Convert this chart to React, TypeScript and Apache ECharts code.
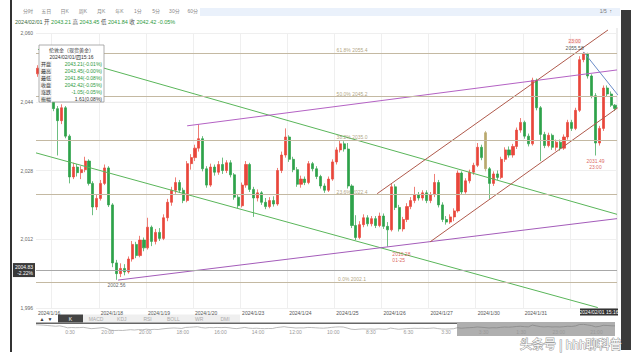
import React, { useEffect, useRef } from "react";
import * as echarts from "echarts";

// ---------- data ----------
const dayLabels = ["2024/1/16", "2024/1/17", "2024/1/18", "2024/1/19", "2024/1/20", "2024/1/23", "2024/1/24", "2024/1/25", "2024/1/26", "2024/1/27", "2024/1/30", "2024/1/31", "2024/02/01"];
const dayCandleCounts = [4, 12, 12, 12, 12, 12, 12, 12, 12, 12, 12, 12, 12];
const hiddenDayLabels = ["2024/1/17", "2024/02/01"];

// [open, close, low, high]
const candles: number[][] = [
  [2050.5, 2051.8, 2049.8, 2052.5], [2051.8, 2050.2, 2049.5, 2052.6], [2050.2, 2048.0, 2047.5, 2050.8], [2048.0, 2045.2, 2044.6, 2048.6],
  [2045.2, 2042.4, 2041.8, 2045.8], [2042.4, 2039.6, 2031.5, 2043.0], [2039.6, 2042.6, 2038.8, 2043.4], [2042.6, 2036.0, 2035.5, 2043.0],
  [2036.0, 2026.5, 2025.0, 2036.4], [2026.5, 2028.8, 2026.0, 2029.8], [2028.8, 2027.5, 2026.6, 2029.5], [2027.5, 2028.2, 2026.0, 2029.0],
  [2028.2, 2030.2, 2027.6, 2031.2], [2030.2, 2025.0, 2024.5, 2030.6], [2025.0, 2019.5, 2017.6, 2025.5], [2019.5, 2021.5, 2018.8, 2022.3],
  [2021.5, 2025.0, 2021.0, 2025.8], [2025.0, 2028.6, 2024.6, 2029.4], [2028.6, 2020.0, 2019.5, 2029.0], [2020.0, 2006.5, 2005.5, 2020.4],
  [2006.5, 2004.0, 2002.56, 2007.2], [2004.0, 2005.2, 2003.2, 2006.4], [2005.2, 2004.4, 2003.6, 2006.2], [2004.4, 2007.4, 2004.0, 2008.0],
  [2007.4, 2010.8, 2006.8, 2011.6], [2010.8, 2008.2, 2007.6, 2011.4], [2008.2, 2011.8, 2007.8, 2012.8], [2011.8, 2010.0, 2009.2, 2012.4],
  [2010.0, 2014.8, 2009.6, 2017.0], [2014.8, 2011.5, 2010.4, 2015.2], [2011.5, 2013.6, 2010.8, 2014.4], [2013.6, 2012.2, 2011.6, 2014.6],
  [2012.2, 2017.0, 2011.8, 2017.8], [2017.0, 2020.6, 2016.2, 2021.4], [2020.6, 2023.4, 2019.8, 2024.2], [2023.4, 2025.2, 2022.6, 2026.4],
  [2025.2, 2023.4, 2022.8, 2025.8], [2023.4, 2021.0, 2020.4, 2024.0], [2021.0, 2029.6, 2020.6, 2030.2], [2029.6, 2031.0, 2028.2, 2031.8],
  [2031.0, 2033.2, 2030.2, 2034.0], [2033.2, 2035.4, 2032.4, 2038.8], [2035.4, 2028.4, 2027.8, 2036.0], [2028.4, 2024.6, 2024.0, 2029.0],
  [2024.6, 2028.8, 2024.2, 2029.6], [2028.8, 2027.6, 2026.8, 2029.4], [2027.6, 2029.4, 2027.0, 2030.2], [2029.4, 2028.0, 2027.2, 2031.0],
  [2028.0, 2029.8, 2027.4, 2030.4], [2029.8, 2027.0, 2026.4, 2030.4], [2027.0, 2021.8, 2021.2, 2027.4], [2021.8, 2019.8, 2019.2, 2022.4],
  [2019.8, 2024.6, 2019.4, 2025.2], [2024.6, 2029.4, 2024.0, 2030.2], [2029.4, 2023.6, 2023.0, 2029.8], [2023.6, 2021.6, 2017.2, 2024.2],
  [2021.6, 2022.8, 2020.8, 2023.6], [2022.8, 2020.6, 2020.0, 2023.2], [2020.6, 2019.6, 2019.0, 2021.6], [2019.6, 2021.0, 2019.2, 2021.8],
  [2021.0, 2020.2, 2019.6, 2022.0], [2020.2, 2028.0, 2019.8, 2028.6], [2028.0, 2031.6, 2027.4, 2032.4], [2031.6, 2035.8, 2031.0, 2037.8],
  [2035.8, 2030.6, 2030.0, 2036.2], [2030.6, 2028.2, 2027.6, 2031.2], [2028.2, 2024.8, 2024.2, 2028.8], [2024.8, 2026.0, 2024.0, 2026.8],
  [2026.0, 2025.2, 2024.6, 2026.6], [2025.2, 2029.6, 2024.8, 2030.2], [2029.6, 2028.4, 2027.8, 2030.0], [2028.4, 2026.6, 2026.0, 2029.0],
  [2026.6, 2024.4, 2023.8, 2027.0], [2024.4, 2023.4, 2022.8, 2025.0], [2023.4, 2026.0, 2023.0, 2026.6], [2026.0, 2030.0, 2025.6, 2030.6],
  [2030.0, 2032.8, 2029.4, 2033.4], [2032.8, 2034.2, 2032.2, 2035.0], [2034.2, 2033.0, 2032.4, 2034.8], [2033.0, 2024.4, 2023.8, 2034.4],
  [2024.4, 2015.2, 2014.6, 2024.8], [2015.2, 2012.4, 2011.8, 2017.6], [2012.4, 2015.4, 2012.0, 2016.2], [2015.4, 2017.0, 2014.8, 2017.8],
  [2017.0, 2015.6, 2015.0, 2017.6], [2015.6, 2016.8, 2015.0, 2017.4], [2016.8, 2015.2, 2014.6, 2017.4], [2015.2, 2017.4, 2014.8, 2018.2],
  [2017.4, 2015.0, 2014.4, 2018.0], [2015.0, 2014.2, 2010.28, 2016.0], [2014.2, 2024.2, 2013.8, 2025.0], [2024.2, 2019.4, 2018.8, 2024.8],
  [2019.4, 2014.4, 2013.8, 2020.0], [2014.4, 2016.6, 2013.8, 2017.2], [2016.6, 2019.6, 2016.0, 2020.4], [2019.6, 2021.0, 2019.0, 2021.8],
  [2021.0, 2022.4, 2020.4, 2024.2], [2022.4, 2021.6, 2021.0, 2023.0], [2021.6, 2022.8, 2021.0, 2023.4], [2022.8, 2021.0, 2020.4, 2023.4],
  [2021.0, 2022.4, 2020.4, 2023.0], [2022.4, 2025.2, 2021.8, 2027.2], [2025.2, 2020.0, 2019.4, 2025.8], [2020.0, 2016.6, 2016.0, 2020.6],
  [2016.6, 2016.0, 2015.4, 2017.4], [2016.0, 2017.2, 2015.6, 2017.8], [2017.2, 2018.6, 2016.2, 2019.2], [2018.6, 2027.4, 2018.2, 2028.0],
  [2027.4, 2023.0, 2022.4, 2027.8], [2023.0, 2025.6, 2022.6, 2026.2], [2025.6, 2027.6, 2025.0, 2028.2], [2027.6, 2029.2, 2027.0, 2029.8],
  [2029.2, 2033.4, 2028.8, 2034.4], [2033.4, 2031.0, 2030.4, 2034.0], [2036.8, 2028.4, 2027.8, 2037.2], [2028.4, 2025.0, 2021.4, 2028.8],
  [2025.0, 2027.2, 2024.4, 2027.8], [2027.2, 2026.4, 2025.8, 2028.0], [2026.4, 2030.6, 2026.0, 2031.2], [2030.6, 2032.8, 2030.0, 2033.4],
  [2032.8, 2031.6, 2031.0, 2033.6], [2031.6, 2033.6, 2031.0, 2034.2], [2033.6, 2037.4, 2033.0, 2038.0], [2037.4, 2039.2, 2036.8, 2040.2],
  [2039.2, 2036.0, 2035.4, 2039.6], [2036.0, 2034.2, 2033.6, 2036.6], [2034.2, 2049.0, 2033.8, 2049.6], [2049.0, 2042.6, 2042.0, 2049.4],
  [2042.6, 2036.4, 2030.2, 2043.0], [2036.4, 2033.8, 2033.2, 2037.0], [2033.8, 2036.2, 2033.4, 2036.8], [2036.2, 2033.4, 2032.8, 2036.6],
  [2033.4, 2034.6, 2032.6, 2035.2], [2034.6, 2033.2, 2032.6, 2035.2], [2033.2, 2035.8, 2032.8, 2036.4], [2035.8, 2039.2, 2035.2, 2039.8],
  [2039.2, 2037.8, 2037.2, 2039.8], [2037.8, 2042.0, 2037.4, 2042.6], [2042.0, 2053.8, 2041.6, 2054.6], [2053.8, 2055.2, 2053.2, 2055.58],
  [2055.2, 2050.0, 2049.4, 2055.4], [2050.0, 2045.4, 2044.8, 2050.4], [2045.4, 2034.4, 2031.49, 2046.0], [2034.4, 2037.8, 2033.8, 2038.4],
  [2037.8, 2047.2, 2037.2, 2047.8], [2047.2, 2045.8, 2045.2, 2047.8], [2045.8, 2043.2, 2042.8, 2046.4], [2043.21, 2042.42, 2041.84, 2043.45],
];
const oliveCandleIndex = 114;

const yMin = 1996;
const yMax = 2060;
const yStep = 16;

const fibPct = ["61.8%", "50.0%", "38.2%", "23.6%", "0.0%"];
const fibVal = [2055.4, 2045.2, 2035.0, 2022.4, 2002.1];
const fibLabelIndex = 80;

const refPrice = 2004.83;
const refPct = "-2.22%";

// trend lines: [candle index, price] end points
const greenUpper = [[0, 2056.2], [147.5, 2017.8]];
const greenLower = [[-0.5, 2032.1], [142.6, 1996.1]];
const purpleUpper = [[38, 2038.4], [147.5, 2051.4]];
const purpleLower = [[20.4, 2002.5], [147.5, 2016.8]];
const channelUpper = [[86.4, 2022.6], [145.2, 2060.7]];
const channelLower = [[99.9, 2011.4], [147.7, 2042.6]];
const peakLine = [[139, 2055.6], [147.7, 2045.6]];

const annLowIdx = 20, annLowVal = 2002.56, annLowText = "2002.56";
const annLow2Idx = 89, annLow2Val = 2010.28, annLow2Text = ["2010.28", "01-25"];
const annHighIdx = 139, annHighVal = 2055.58, annHighText = ["23:00", "2055.58"];
const annLow3Idx = 142, annLow3Val = 2031.49, annLow3Text = ["2031.49", "23:00"];

const headerDate = "2024/02/01";
const headerItems = [["开", "2043.21"], ["高", "2043.45"], ["低", "2041.84"], ["收", "2042.42"]];
const headerChange = "-0.05%";

const tipTitle = "伦敦金（现货黄金）";
const tipTime = "2024/02/01/四15:16";
const tipLabels = ["开盘", "最高", "最低", "收盘", "涨跌", "振幅"];
const tipValues = ["2043.21(-0.01%)", "2043.45(-0.00%)", "2041.84(-0.08%)", "2042.42(-0.05%)", "-1.05(-0.05%)", "1.61(0.08%)"];

const periodTabs = ["分时", "五日", "日K", "周K", "月K", "年K", "1分", "5分", "30分", "60分"];
const indicatorTabs = ["MACD", "KDJ", "RSI", "BOLL", "WR", "DMI"];
const activeTab = "K";
const navTimeLabels = ["0:30", "20:00", "20:00", "18:00", "16:00", "14:00", "12:00", "10:00", "8:30", "6:30", "3:30", "3:30", "1:30", "23:00", "21:00"];
const cursorTime = "2024/02/01 15:16";
const watermark = "头条号 | hhh聊科普";

// ---------- derived ----------
const categories: string[] = [];
const dayStartIdx = new Set<number>();
const shownLabelIdx = new Set<number>();
dayLabels.forEach((d, k) => {
  dayStartIdx.add(categories.length);
  if (!hiddenDayLabels.includes(d)) shownLabelIdx.add(categories.length);
  for (let j = 0; j < dayCandleCounts[k]; j++) categories.push(d + "|" + j);
});
const N = categories.length;

const FONT = '"Liberation Sans","Noto Sans CJK SC",sans-serif';
const UP = "#e8463b";
const DOWN = "#2ea24a";
const GREEN_TXT = "#2e9a3e";

function buildOption() {
  const candleData = candles.map((c, i) =>
    i === oliveCandleIndex
      ? { value: c, itemStyle: { color0: "#b9a96e", borderColor0: "#b9a96e" } }
      : c
  );
  const trend = (data: number[][], color: string, name: string) => ({
    name,
    type: "line",
    xAxisIndex: 1,
    yAxisIndex: 0,
    data,
    symbol: "none",
    silent: true,
    clip: false,
    z: 4,
    lineStyle: { color, width: 1 },
  });

  const headerRich = "{d|" + headerDate + "} " +
    headerItems.map(([l, v]) => "{l|" + l + "} {g|" + v + "}").join(" ") + " {g|" + headerChange + "}";

  const TZ = 100;
  const tipEls: any[] = [
    { type: "rect", z: TZ, shape: { x: 39, y: 45, width: 65, height: 57 }, style: { fill: "#fff", stroke: "#9a9a9a", lineWidth: 0.8 } },
    { type: "text", z: TZ + 1, x: 71.5, y: 50, style: { text: tipTitle, fill: "#333", fontSize: 5, fontFamily: FONT, align: "center", verticalAlign: "middle" } },
    { type: "text", z: TZ + 1, x: 71.5, y: 57, style: { text: tipTime, fill: "#333", fontSize: 5, fontFamily: FONT, align: "center", verticalAlign: "middle" } },
  ];
  tipLabels.forEach((l, k) => {
    tipEls.push({ type: "rect", z: TZ + 1, shape: { x: 40, y: 61 + k * 7, width: 12, height: 6 }, style: { fill: "#f2f2f2" } });
    tipEls.push({ type: "text", z: TZ + 2, x: 41, y: 64 + k * 7, style: { text: l, fill: "#333", fontSize: 5, fontFamily: FONT, align: "left", verticalAlign: "middle" } });
    tipEls.push({ type: "text", z: TZ + 2, x: 102, y: 64 + k * 7, style: { text: tipValues[k], fill: k < 5 ? GREEN_TXT : "#333", fontSize: 5, fontFamily: FONT, align: "right", verticalAlign: "middle" } });
  });

  const graphic: any[] = [
    { type: "rect", shape: { x: 10, y: 0, width: 2, height: 352 }, style: { fill: "#333" } },
    { type: "rect", shape: { x: 200, y: 8, width: 420, height: 8 }, style: { fill: "#eaf1fb" } },
    ...periodTabs.map((t, k) => ({ type: "text", x: 28 + k * 18.3, y: 11, style: { text: t, fill: "#888", fontSize: 5, fontFamily: FONT, align: "center", verticalAlign: "middle" } })),
    { type: "text", x: 612, y: 11, style: { text: "1/5  ↑", fill: "#777", fontSize: 5, fontFamily: FONT, align: "right", verticalAlign: "middle" } },
    { type: "text", x: 15, y: 22, style: { text: headerRich, fontSize: 5.5, fontFamily: FONT, verticalAlign: "middle", rich: { d: { fill: "#3a6a3a", fontSize: 5.5, fontFamily: FONT }, l: { fill: "#555", fontSize: 5.5, fontFamily: FONT }, g: { fill: GREEN_TXT, fontSize: 5.5, fontFamily: FONT } } } },
    { type: "line", shape: { x1: 617, y1: 28, x2: 617, y2: 308 }, style: { stroke: "#dddddd", lineWidth: 1 } },
    { type: "rect", z: 20, shape: { x: 580, y: 308.5, width: 38, height: 7 }, style: { fill: "#333" } },
    { type: "text", z: 21, x: 599, y: 312, style: { text: cursorTime, fill: "#fff", fontSize: 5, fontFamily: FONT, align: "center", verticalAlign: "middle" } },
    { type: "text", x: 42, y: 318.5, style: { text: "▲", fill: "#333", fontSize: 5, fontFamily: FONT, align: "center", verticalAlign: "middle" } },
    { type: "text", x: 50, y: 318.5, style: { text: "▼", fill: "#333", fontSize: 5, fontFamily: FONT, align: "center", verticalAlign: "middle" } },
    { type: "rect", shape: { x: 58, y: 314.5, width: 25, height: 8 }, style: { fill: "#444" } },
    { type: "text", x: 70.5, y: 318.5, style: { text: activeTab, fill: "#fff", fontSize: 5, fontFamily: FONT, align: "center", verticalAlign: "middle" } },
    { type: "rect", shape: { x: 83, y: 314.5, width: 157, height: 8 }, style: { fill: "#efefef" } },
    ...indicatorTabs.map((t, k) => ({ type: "text", x: 96 + k * 25.8, y: 318.5, style: { text: t, fill: "#aaa", fontSize: 5, fontFamily: FONT, align: "center", verticalAlign: "middle" } })),
    { type: "rect", shape: { x: 36, y: 322.5, width: 421, height: 1.4 }, style: { fill: "#666" } },
    { type: "rect", z: 50, shape: { x: 457, y: 322, width: 158, height: 14 }, style: { fill: "rgba(110,110,110,0.55)" } },
    ...navTimeLabels.map((t, k) => ({ type: "text", x: 70 + k * 37.6, y: 332, z: 60, style: { text: t, fill: "#999", fontSize: 5, fontFamily: FONT, align: "center", verticalAlign: "middle" } })),
    { type: "rect", shape: { x: 621, y: 10, width: 10, height: 340 }, style: { fill: "#3a3a3a" } },
    { type: "text", x: 520, y: 345, z: 80, style: { text: watermark, fill: "#ffffff", stroke: "rgba(90,90,90,0.6)", lineWidth: 1.2, fontSize: 12, fontFamily: FONT, align: "left", verticalAlign: "middle" } },
    ...tipEls,
  ];

  return {
    animation: false,
    backgroundColor: "#ffffff",
    textStyle: { fontFamily: FONT },
    grid: [
      { left: 36, top: 33, width: 581, height: 275 },
      { left: 36, top: 324, width: 579, height: 7 },
    ],
    xAxis: [
      {
        type: "category", gridIndex: 0, data: categories, boundaryGap: true,
        axisLine: { show: false }, axisTick: { show: false },
        axisLabel: {
          interval: (idx: number) => shownLabelIdx.has(idx),
          formatter: (v: string) => v.split("|")[0],
          align: "left", fontSize: 5, color: "#555", margin: 2, hideOverlap: false,
        },
        splitLine: { show: true, interval: (idx: number) => dayStartIdx.has(idx) && idx > 0, lineStyle: { color: "#efefef", width: 1 } },
      },
      { type: "value", gridIndex: 0, min: -0.5, max: N - 0.5, show: false },
      { type: "category", gridIndex: 1, data: categories, boundaryGap: false, show: false },
    ],
    yAxis: [
      {
        type: "value", gridIndex: 0, min: yMin, max: yMax, interval: yStep,
        axisLine: { show: false }, axisTick: { show: false },
        axisLabel: { fontSize: 5, color: "#666", margin: 3 },
        splitLine: { lineStyle: { color: "#efefef" } },
      },
      { type: "value", gridIndex: 1, min: 2000, max: 2058, show: false },
    ],
    series: [
      {
        type: "candlestick", xAxisIndex: 0, yAxisIndex: 0, data: candleData, barWidth: 2.6, silent: true, z: 3,
        itemStyle: { color: UP, color0: DOWN, borderColor: UP, borderColor0: DOWN, borderWidth: 0.7 },
        markLine: {
          silent: true, symbol: ["none", "none"], animation: false,
          data: [
            ...fibVal.map((v) => ({ yAxis: v, lineStyle: { color: "#c4b9a2", width: 1.2, type: "solid" }, label: { show: false } })),
            {
              yAxis: refPrice, lineStyle: { color: "#a8a8a8", width: 1, type: "solid" },
              label: { show: true, position: "start", distance: 1, formatter: refPrice + "\n" + refPct, color: "#fff", backgroundColor: "#3a3a3a", fontSize: 5, lineHeight: 6, padding: [1, 2] },
            },
          ],
        },
      },
      trend(greenUpper, "#5ab65a", "g1"),
      trend(greenLower, "#5ab65a", "g2"),
      trend(purpleUpper, "#b462c4", "p1"),
      trend(purpleLower, "#a45cba", "p2"),
      trend(channelUpper, "#b05a4c", "c1"),
      trend(channelLower, "#b05a4c", "c2"),
      trend(peakLine, "#6a8cc8", "b1"),
      {
        type: "scatter", xAxisIndex: 1, yAxisIndex: 0, symbolSize: 0, silent: true, z: 6,
        data: fibVal.map((v) => [fibLabelIndex, v]),
        label: {
          show: true, position: "top", distance: 0.5, fontSize: 5, color: "#9c8c62",
          formatter: (p: any) => fibPct[p.dataIndex] + " " + fibVal[p.dataIndex].toFixed(1),
        },
      },
      {
        type: "scatter", xAxisIndex: 1, yAxisIndex: 0, symbolSize: 0, silent: true, z: 6,
        data: [
          { value: [annLowIdx, annLowVal], label: { show: true, position: "bottom", distance: 3, formatter: annLowText, color: "#333", fontSize: 5 } },
          { value: [annLow2Idx, annLow2Val], label: { show: true, position: "bottom", distance: 5, offset: [5, 0], formatter: annLow2Text.join("\n"), color: "#d23a32", fontSize: 5, lineHeight: 5.5, align: "left" } },
          { value: [annHighIdx, annHighVal], label: { show: true, position: "top", distance: 1, offset: [-9, 0], formatter: "{r|" + annHighText[0] + "}\n{d|" + annHighText[1] + "}", rich: { r: { color: "#d23a32", fontSize: 5, lineHeight: 6.5, backgroundColor: "#fbe3e3" }, d: { color: "#222", fontSize: 5, lineHeight: 6.5 } } } },
          { value: [annLow3Idx, annLow3Val], label: { show: true, position: "bottom", distance: 3, formatter: annLow3Text.join("\n"), color: "#d23a32", fontSize: 5, lineHeight: 5.5 } },
        ],
      },
      {
        type: "line", xAxisIndex: 2, yAxisIndex: 1, data: candles.map((c) => c[1]), symbol: "none", silent: true,
        lineStyle: { color: "#aaaaaa", width: 0.8 },
      },
    ],
    graphic,
  };
}

export default function App() {
  const ref = useRef<HTMLDivElement>(null);
  useEffect(() => {
    const chart = echarts.init(ref.current!, null, { renderer: "svg" });
    chart.setOption(buildOption() as any);
    return () => chart.dispose();
  }, []);
  return <div ref={ref} style={{ position: "fixed", left: 0, top: 0, width: 640, height: 360, background: "#fff" }} />;
}
